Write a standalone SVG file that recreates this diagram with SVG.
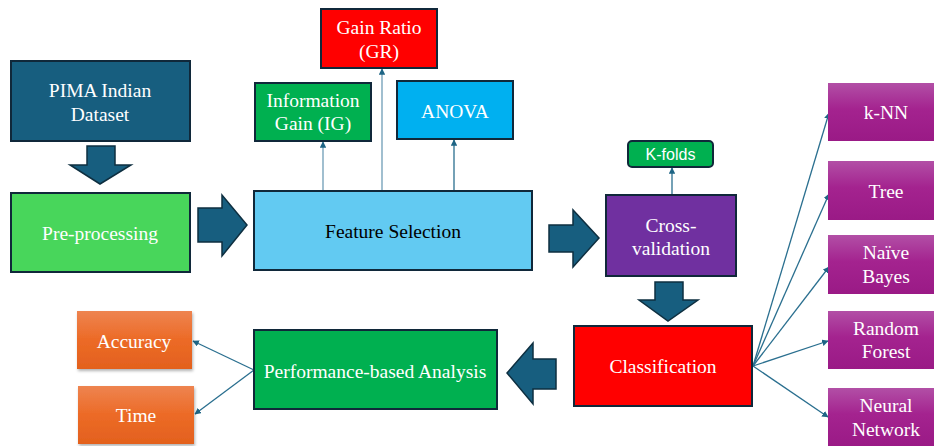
<svg xmlns="http://www.w3.org/2000/svg" width="934" height="446" viewBox="0 0 934 446">
  <defs>
    <linearGradient id="gPurple" x1="0" y1="0" x2="0" y2="1">
      <stop offset="0" stop-color="#B24FA6"/>
      <stop offset="0.45" stop-color="#A4238F"/>
      <stop offset="1" stop-color="#9A1A86"/>
    </linearGradient>
    <linearGradient id="gOrange" x1="0" y1="0" x2="0" y2="1">
      <stop offset="0" stop-color="#EE8450"/>
      <stop offset="0.5" stop-color="#EC6A26"/>
      <stop offset="1" stop-color="#E3611E"/>
    </linearGradient>
    <filter id="shadow" x="-10%" y="-10%" width="125%" height="130%">
      <feDropShadow dx="1" dy="2" stdDeviation="1.5" flood-color="#000" flood-opacity="0.3"/>
    </filter>
    <marker id="tip" viewBox="0 0 10 10" refX="9" refY="5" markerWidth="5" markerHeight="5" orient="auto-start-reverse">
      <path d="M0,0 L10,5 L0,10 z" fill="#1E6585"/>
    </marker>
  </defs>
  <style>
    .box { stroke: #10283A; stroke-width: 2; }
    .t { font-family: "Liberation Serif", "Times New Roman", serif; font-size: 19.5px; text-anchor: middle; fill: #ffffff; }
    .dark { fill: #000000; }
    .sans { font-family: "Liberation Sans", Arial, sans-serif; font-size: 16px; text-anchor: middle; fill: #ffffff; }
    .link { stroke: #2A6F8F; stroke-width: 1.3; fill: none; marker-end: url(#tip); }
    .soft { stroke: #6E9DB6; }
    .block { fill: #175E7F; stroke: #0E2F40; stroke-width: 1.5; }
    .leaf { stroke: none; }
  </style>

  <rect width="934" height="446" fill="#ffffff"/>

  <!-- connectors -->
  <g id="connectors">
    <!-- block arrows between stages -->
    <path class="block" d="M87,146 H115 V165 H131 L100,184 L70,165 H87 Z"/>
    <path class="block" d="M198,208 H222 V195 L247,225 L222,256 V242 H198 Z"/>
    <path class="block" d="M549,225 H573 V210 L599,238 L573,267 V252 H549 Z"/>
    <path class="block" d="M655,282 H683 V300 H698 L668,321 L639,300 H655 Z"/>
    <path class="block" d="M556,359 H533 V343 L507,373 L533,404 V389 H556 Z"/>

    <!-- feature selection methods -->
    <line class="link soft" x1="323" y1="191" x2="323" y2="142"/>
    <line class="link soft" x1="382" y1="191" x2="382" y2="69"/>
    <line class="link" x1="454" y1="191" x2="454" y2="140"/>

    <!-- cross-validation to k-folds -->
    <line class="link" x1="672" y1="195" x2="672" y2="168"/>

    <!-- classification to classifiers -->
    <line class="link" x1="753" y1="366" x2="829" y2="113"/>
    <line class="link" x1="753" y1="366" x2="829" y2="194"/>
    <line class="link" x1="753" y1="366" x2="829" y2="267"/>
    <line class="link" x1="753" y1="366" x2="828" y2="341"/>
    <line class="link" x1="753" y1="366" x2="828" y2="417"/>

    <!-- analysis to metrics -->
    <line class="link" x1="254" y1="370" x2="193" y2="341"/>
    <line class="link" x1="254" y1="370" x2="195" y2="414"/>
  </g>

  <g id="pima">
    <rect class="box" x="11" y="61" width="179" height="80" fill="#175E7F"/>
    <text class="t" x="100" y="97">PIMA Indian</text>
    <text class="t" x="100" y="121">Dataset</text>
  </g>

  <g id="preprocessing">
    <rect class="box" x="11" y="193" width="179" height="79" fill="#48D65B"/>
    <text class="t" x="100" y="240">Pre-processing</text>
  </g>

  <g id="feature-selection">
    <rect class="box" x="254" y="191" width="278" height="79" fill="#62CAF2"/>
    <text class="t dark" x="393" y="238">Feature Selection</text>
  </g>

  <g id="gain-ratio">
    <rect class="box" x="321" y="9" width="116" height="59" fill="#FF0000"/>
    <text class="t" x="379" y="34">Gain Ratio</text>
    <text class="t" x="379" y="58">(GR)</text>
  </g>

  <g id="info-gain">
    <rect class="box" x="255" y="83" width="116" height="58" fill="#00B050"/>
    <text class="t" x="313" y="107">Information</text>
    <text class="t" x="313" y="130">Gain (IG)</text>
  </g>

  <g id="anova">
    <rect class="box" x="397" y="81" width="116" height="58" fill="#00B0F0"/>
    <text class="t" x="455" y="118">ANOVA</text>
  </g>

  <g id="k-folds">
    <rect class="box" x="628" y="141" width="85" height="26" rx="4" fill="#00B050"/>
    <text class="sans" x="670.5" y="160">K-folds</text>
  </g>

  <g id="cross-validation">
    <rect class="box" x="606" y="195" width="130" height="81" fill="#7030A0"/>
    <text class="t" x="671" y="232">Cross-</text>
    <text class="t" x="671" y="255">validation</text>
  </g>

  <g id="classification">
    <rect class="box" x="574" y="326" width="178" height="80" fill="#FF0000"/>
    <text class="t" x="663" y="373">Classification</text>
  </g>

  <g id="performance">
    <rect class="box" x="254" y="330" width="243" height="79" fill="#00B050"/>
    <text class="t" x="375" y="378">Performance-based Analysis</text>
  </g>

  <g id="accuracy">
    <rect class="leaf" x="77" y="311" width="115" height="58" fill="url(#gOrange)" filter="url(#shadow)"/>
    <text class="t" x="134" y="348">Accuracy</text>
  </g>

  <g id="time">
    <rect class="leaf" x="78" y="386" width="116" height="58" fill="url(#gOrange)" filter="url(#shadow)"/>
    <text class="t" x="136" y="422">Time</text>
  </g>

  <g id="knn">
    <rect class="leaf" x="828" y="83" width="110" height="58" fill="url(#gPurple)"/>
    <text class="t" x="886" y="119">k-NN</text>
  </g>

  <g id="tree">
    <rect class="leaf" x="828" y="161" width="110" height="59" fill="url(#gPurple)"/>
    <text class="t" x="886" y="198">Tree</text>
  </g>

  <g id="naive-bayes">
    <rect class="leaf" x="828" y="235" width="110" height="59" fill="url(#gPurple)"/>
    <text class="t" x="886" y="259">Naïve</text>
    <text class="t" x="886" y="283">Bayes</text>
  </g>

  <g id="random-forest">
    <rect class="leaf" x="828" y="311" width="110" height="58" fill="url(#gPurple)"/>
    <text class="t" x="886" y="335">Random</text>
    <text class="t" x="886" y="358">Forest</text>
  </g>

  <g id="neural-network">
    <rect class="leaf" x="828" y="388" width="110" height="58" fill="url(#gPurple)"/>
    <text class="t" x="886" y="412">Neural</text>
    <text class="t" x="886" y="436">Network</text>
  </g>
</svg>
